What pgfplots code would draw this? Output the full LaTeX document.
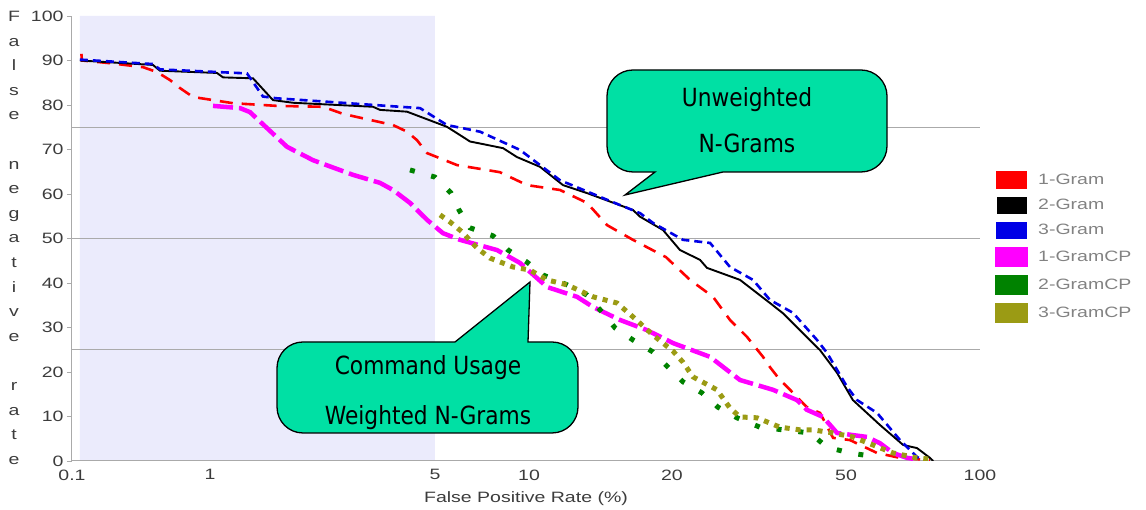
\documentclass[border=0pt]{standalone}
\usepackage{fontspec}
\usepackage{pgfplots}
\pgfplotsset{compat=1.18}
\newfontfamily\chartfont[FakeStretch=1.3]{Liberation Sans}
\newfontfamily\callfont[FakeStretch=0.87]{DejaVu Sans}
\definecolor{lav}{RGB}{235,235,252}
\definecolor{callc}{RGB}{0,224,164}
\definecolor{tickgray}{RGB}{60,60,60}
\definecolor{leggray}{RGB}{130,130,130}
\definecolor{gridgray}{RGB}{170,170,170}
\definecolor{c1}{RGB}{255,0,0}
\definecolor{c2}{RGB}{0,0,0}
\definecolor{c3}{RGB}{0,0,230}
\definecolor{c4}{RGB}{255,0,255}
\definecolor{c5}{RGB}{0,130,0}
\definecolor{c6}{RGB}{155,155,20}
% the chart's own non-uniform scale for the false positive rate (piecewise log):
% 0.1 -> 72, 1 -> 210, 5 -> 435, 10 -> 529, 20 -> 672, 50 -> 846, 100 -> 980
\newcommand\fprpos[1]{%
  \begingroup
  \pgfkeys{/pgf/fpu=true,/pgf/fpu/output format=fixed}%
  \pgfmathparse{ln(#1)/2.302585}\let\Lval\pgfmathresult
  \pgfmathparse{\Lval<0 ? 72+(\Lval+1)*138 : (\Lval<0.69897 ? 210+\Lval*321.90 : (\Lval<1 ? 435+(\Lval-0.69897)*312.26 : (\Lval<1.30103 ? 529+(\Lval-1)*475.04 : (\Lval<1.69897 ? 672+(\Lval-1.30103)*437.25 : 846+(\Lval-1.69897)*445.14))))}%
  \xdef\fprresult{\pgfmathresult}%
  \endgroup
  \let\pgfmathresult\fprresult
}
\begin{document}
\begin{tikzpicture}
\begin{axis}[
  at={(0pt,0pt)}, anchor=south west,
  scale only axis, width=908pt, height=445pt,
  set layers,
  x coord trafo/.code={\fprpos{#1}},
  xmin=0.1, xmax=100, ymin=0, ymax=100,
  axis lines*=left, axis line style={gridgray, line width=1pt, -},
  xtick={0.1,1,5,10,20,50,100}, xticklabels={0.1,1,5,10,20,50,100},
  ytick={0,10,...,100},
  x tick style={draw=none}, y tick style={gridgray, line width=0.8pt},
  tick align=outside, major tick length=5pt,
  extra y ticks={25,50,75}, extra y tick labels={},
  extra y tick style={grid=major, major grid style={gridgray, line width=0.8pt}, tick style={draw=none}},
  tick label style={font=\chartfont\fontsize{15}{18}\selectfont, text=tickgray},
  /pgf/number format/assume math mode=true,
  xlabel={False Positive Rate (\%)},
  xlabel style={font=\chartfont\fontsize{15}{18}\selectfont, text=tickgray, yshift=-5pt},
  legend style={at={(1.0165,0.652)}, anchor=north west, draw=none, fill=none,
    font=\chartfont\fontsize{15}{18}\selectfont, text=leggray,
    row sep=8pt, column sep=10pt, inner sep=0pt, nodes={inner sep=0pt}},
  legend cell align=left,
  legend image code/.code={\fill[#1, solid] (0pt,-7.5pt) rectangle (28pt,7.5pt);},
]
\addplot[fill=lav, draw=none, forget plot, on layer=axis background] coordinates {(0.114,0) (0.114,100) (5,100) (5,0)} \closedcycle;

\addplot[color=c1, line width=2.6pt, dash pattern=on 13pt off 9pt] coordinates {
(0.117,91.5) (0.118,90.0) (0.1885,89.4) (0.327,88.5) (0.413,87.4) (0.513,85.6) (0.606,83.8) (0.753,81.8) (1.179,80.4) (1.615,79.8) (2.244,79.6) (2.590,78.0) (3.302,76.3) (3.702,75.5) (4.092,74.0) (4.396,72.1) (4.722,69.2) (5.88,66.5) (8.07,64.9) (9.85,62.0) (11.62,60.9) (13.25,58.0) (14.60,53.0) (16.55,49.7) (19.43,45.8) (21.99,40.7) (24.82,36.9) (27.14,31.7) (29.68,27.9) (32.30,23.4) (33.50,21.1) (35.32,18.2) (36.65,16.7) (39.23,13.7) (40.70,12.1) (43.61,10.8) (46.70,5.2) (51.04,4.7) (58.72,1.8) (66.14,0.7) (77.2,0.2)};
\addlegendentry{1-Gram}

\addplot[color=c2, line width=1.9pt] coordinates {
(0.114,90.0) (0.386,89.0) (0.434,87.7) (1.051,87.2) (1.098,86.2) (1.360,86.0) (1.569,81.1) (1.811,80.5) (3.209,79.6) (3.374,78.9) (4.092,78.5) (5.46,75.1) (6.15,72.8) (6.47,71.8) (8.26,70.3) (9.15,68.3) (10.55,66.1) (11.79,62.0) (13.25,60.2) (16.55,56.4) (17.13,54.9) (19.15,51.9) (20.86,47.4) (23.18,45.2) (24.04,43.4) (28.61,40.7) (33.50,35.5) (35.88,33.2) (43.61,24.9) (47.70,19.8) (51.8,13.7) (59.6,8.1) (67.2,3.6) (72.2,2.9) (77.2,0.7) (78.5,0)};
\addlegendentry{2-Gram}

\addplot[color=c3, line width=2.6pt, dash pattern=on 8pt off 5pt] coordinates {
(0.114,90.2) (0.386,89.2) (0.434,88.0) (1.303,87.1) (1.461,81.9) (1.615,81.5) (3.892,79.6) (4.491,79.3) (5.46,75.5) (6.97,74.0) (9.36,69.9) (11.62,63.1) (14.60,58.7) (17.13,55.7) (18.24,53.5) (21.19,49.7) (24.44,49.0) (27.14,43.6) (30.64,40.7) (33.50,36.2) (37.82,33.3) (42.92,27.2) (45.24,24.3) (50.26,16.7) (52.93,13.7) (58.72,10.8) (66.14,4.7) (72.2,0.9) (74,0.3)};
\addlegendentry{3-Gram}

\addplot[color=c4, line width=4.5pt, dash pattern=on 20pt off 6pt] coordinates {
(1.022,79.8) (1.239,79.3) (1.331,78.4) (1.504,74.8) (1.735,70.6) (2.089,67.6) (2.782,64.3) (3.374,62.5) (3.702,60.9) (4.181,58.0) (4.722,54.2) (5.30,51.2) (6.01,49.7) (7.90,47.4) (9.36,44.5) (10.91,39.1) (12.62,36.9) (13.64,34.6) (15.54,31.7) (17.72,29.4) (20.1,26.5) (24.44,23.4) (28.61,18.2) (34.04,16.0) (38.62,13.7) (40.70,11.5) (44.30,9.9) (47.70,6.3) (55.74,5.4) (59.6,4.0) (63.76,1.8) (68.55,0.7) (72,0.4)};
\addlegendentry{1-GramCP}

\addplot[color=c5, line width=5pt, dash pattern=on 5pt off 17pt] coordinates {
(4.181,65.4) (5.0,63.8) (5.63,60.2) (5.97,56.4) (6.47,52.4) (7.67,50.6) (8.57,47.4) (9.85,44.7) (10.70,41.8) (12.02,39.6) (13.25,37.3) (14.24,33.5) (15.18,29.9) (16.55,27.2) (18.24,24.5) (19.62,21.1) (21.19,17.8) (23.42,15.3) (25.47,12.1) (28.17,9.7) (31.79,7.6) (41.37,6.3) (45.24,3.1) (51.04,1.8) (58.72,0.9)};
\addlegendentry{2-GramCP}

\addplot[color=c6, line width=5pt, dash pattern=on 5pt off 6pt] coordinates {
(5.19,55.3) (5.59,53.7) (6.10,51.5) (6.81,47.9) (7.50,45.6) (8.89,43.6) (10.05,42.9) (10.91,40.7) (12.02,39.6) (13.64,36.9) (15.32,35.5) (16.55,32.4) (18.24,28.3) (20.1,24.7) (21.19,22.2) (22.34,18.9) (25.34,16.0) (27.14,11.9) (28.61,9.9) (31.30,9.7) (35.32,7.6) (39.23,7.0) (42.02,7.0) (46.70,6.3) (51.8,5.4) (57.5,3.6) (63.76,1.8) (72.2,0.7) (77.2,0.4)};
\addlegendentry{3-GramCP}
\end{axis}

% y label, letter by letter
\node[anchor=north, inner sep=0pt, align=center, text=tickgray,
  font=\chartfont\fontsize{15}{24.6}\selectfont] at (-58pt,450pt)
  {F\\a\\l\\s\\e\\\mbox{}\\n\\e\\g\\a\\t\\i\\v\\e\\\mbox{}\\r\\a\\t\\e};

% callout 1
\draw[fill=callc, line width=1.3pt] (651pt,289pt) [rounded corners=26pt] -- (815pt,289pt) -- (815pt,391pt) -- (535pt,391pt) -- (535pt,289pt) [sharp corners] -- (583pt,289pt) -- (553pt,266pt) -- cycle;
\node[anchor=base, inner sep=0pt, font=\callfont\fontsize{25}{30}\selectfont] at (675pt,354pt) {Unweighted};
\node[anchor=base, inner sep=0pt, font=\callfont\fontsize{25}{30}\selectfont] at (675pt,308pt) {N-Grams};

% callout 2
\draw[fill=callc, line width=1.3pt] (456pt,119pt) [rounded corners=26pt] -- (506pt,119pt) -- (506pt,28pt) -- (205pt,28pt) -- (205pt,119pt) [sharp corners] -- (383pt,119pt) -- (458pt,179pt) -- cycle;
\node[anchor=base, inner sep=0pt, font=\callfont\fontsize{25}{30}\selectfont] at (356pt,86pt) {Command Usage};
\begin{scope}
\clip (205pt,29.5pt) rectangle (506pt,119pt);
\node[anchor=base, inner sep=0pt, font=\callfont\fontsize{25}{30}\selectfont] at (356pt,36pt) {Weighted N-Grams};
\end{scope}

\pgfresetboundingbox
\path[use as bounding box] (-72pt,-49pt) rectangle (1074pt,461pt);
\end{tikzpicture}
\end{document}
